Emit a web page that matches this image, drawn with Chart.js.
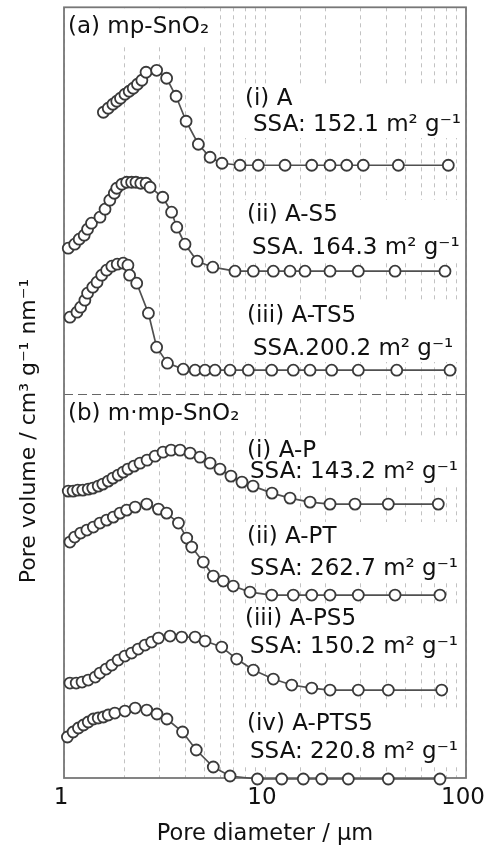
<!DOCTYPE html>
<html>
<head>
<meta charset="utf-8">
<script src="https://cdn.jsdelivr.net/npm/chart.js@4/dist/chart.umd.min.js"></script>
<style>
  html, body { margin: 0; padding: 0; background: #fff; }
</style>
</head>
<body>
<canvas id="pore-chart" width="488" height="853"></canvas>
<script>
// pore diameter (um) and pore volume (arbitrary, relative to each curve's own baseline)
const dA = [1.57,1.66,1.75,1.83,1.91,2.01,2.11,2.21,2.32,2.44,2.56,2.89,3.24,3.61,4.05,4.66,5.33,6.11,7.51,9.26,12.58,17.08,21.06,25.5,30.83,46.07,81.66];
const vA = [53,57,61,64,67,71,74,77,81,85,93,95,87,69,44,21,8,2,0,0,0,0,0,0,0,0,0];

const dS5 = [1.05,1.13,1.19,1.26,1.31,1.37,1.51,1.60,1.69,1.78,1.83,1.94,2.05,2.17,2.28,2.41,2.56,2.68,3.10,3.43,3.64,4.00,4.60,5.50,7.09,8.75,11.0,13.32,15.81,21.06,29.12,44.36,78.61];
const vS5 = [23,27,32,36,42,48,54,62,71,78,83,87,89,89,89,88,88,84,74,59,44,27,10,4,0,0,0,0,0,0,0,0,0];

const dTS5 = [1.07,1.16,1.21,1.27,1.31,1.39,1.46,1.54,1.63,1.73,1.84,1.97,2.08,2.12,2.30,2.63,2.89,3.27,3.92,4.49,5.03,5.64,6.70,8.26,10.8,13.83,16.75,21.47,29.12,45.23,83.26];
const vTS5 = [53,58,63,70,77,83,88,95,100,104,106,107,105,95,87,57,23,7,1,0,0,0,0,0,0,0,0,0,0,0,0];

const dP = [1.05,1.11,1.17,1.24,1.32,1.39,1.48,1.56,1.66,1.75,1.86,1.97,2.08,2.23,2.39,2.59,2.84,3.11,3.41,3.78,4.24,4.75,5.33,5.97,6.77,7.68,8.72,10.83,13.32,16.75,21.06,28.04,41.06,72.8];
const vP = [13,13,14,14,15,16,18,20,23,26,29,32,35,38,41,44,48,52,54,54,51,47,41,35,28,22,18,11,6,2,0,0,0,0];

const dPT = [1.07,1.13,1.21,1.30,1.40,1.51,1.63,1.76,1.90,2.05,2.26,2.58,2.95,3.24,3.71,4.08,4.32,4.93,5.53,6.20,6.95,8.42,10.8,13.83,17.08,21.06,29.12,44.36,74.22];
const vPT = [53,58,62,65,68,72,75,78,82,85,88,91,86,82,72,57,48,33,19,14,9,3,0,0,0,0,0,0,0];

const dPS5 = [1.07,1.15,1.23,1.32,1.43,1.51,1.62,1.73,1.86,2.01,2.17,2.34,2.53,2.73,2.95,3.37,3.85,4.49,5.03,6.09,7.23,8.75,11.0,13.58,17.08,21.06,29.12,41.06,75.69];
const vPS5 = [7,7,8,10,13,17,21,25,30,34,37,41,45,48,52,54,53,53,49,43,31,20,11,5,2,0,0,0,0];

const dPTS5 = [1.04,1.11,1.18,1.25,1.32,1.40,1.48,1.57,1.66,1.79,2.01,2.26,2.58,2.90,3.25,3.89,4.55,5.53,6.70,9.17,12.11,15.51,19.15,25.97,41.06,74.22];
const vPTS5 = [42,47,51,54,57,60,61,62,64,66,68,71,69,65,60,47,29,12,3,0,0,0,0,0,0,0];

// stacking offsets of the curves (same units as the volumes)
const offsets = [613, 507, 408, 274, 183, 88, -1];
const panelSplit = 384;

const sampleNames = ['(i) A', '(ii) A-S5', '(iii) A-TS5', '(i) A-P', '(ii) A-PT', '(iii) A-PS5', '(iv) A-PTS5'];
const ssaLabels = ['SSA: 152.1 m² g⁻¹', 'SSA. 164.3 m² g⁻¹', 'SSA.200.2 m² g⁻¹', 'SSA: 143.2 m² g⁻¹', 'SSA: 262.7 m² g⁻¹', 'SSA: 150.2 m² g⁻¹', 'SSA: 220.8 m² g⁻¹'];
const panelLabels = ['(a) mp-SnO₂', '(b) m·mp-SnO₂'];
const xTickLabels = ['1', '10', '100'];
const xTitle = 'Pore diameter / μm';
const yTitle = 'Pore volume / cm³ g⁻¹ nm⁻¹';

const diams = [dA, dS5, dTS5, dP, dPT, dPS5, dPTS5];
const vols = [vA, vS5, vTS5, vP, vPT, vPS5, vPTS5];

const FONT = '"DejaVu Sans", sans-serif';

const datasets = sampleNames.map((name, k) => ({
    label: name,
    data: diams[k].map((d, i) => ({ x: d, y: vols[k][i] + offsets[k] })),
    borderColor: '#505050',
    borderWidth: 1.7,
    pointRadius: 5.5,
    pointBorderWidth: 1.8,
    pointBorderColor: '#3a3a3a',
    pointBackgroundColor: '#fff',
    tension: 0,
    clip: false
}));

// label places in pixels: [name x, name baseline, ssa x, ssa baseline]
const labelPos = [
    [245, 105, 253, 131],
    [247, 221, 252, 254],
    [247, 322, 253, 355],
    [247, 457, 250, 478],
    [247, 543, 250, 575],
    [245, 625, 250, 653],
    [247, 730, 250, 758]
];

const annotate = {
    id: 'annotate',
    beforeDatasetsDraw(chart) {
        const ctx = chart.ctx;
        const a = chart.chartArea;
        const y = chart.scales.y;
        ctx.save();
        ctx.font = '23px ' + FONT;
        ctx.textBaseline = 'alphabetic';
        ctx.textAlign = 'left';

        // white patches behind the labels hide the grid
        ctx.fillStyle = '#fff';
        ctx.fillRect(a.left + 1, a.top + 1, 154, 38);
        ctx.fillRect(a.left + 1, 398, 182, 30);
        labelPos.forEach((p, k) => {
            const x0 = Math.min(p[0], p[2]) - 4;
            const w = Math.max(p[0] + ctx.measureText(sampleNames[k]).width, p[2] + ctx.measureText(ssaLabels[k]).width);
            ctx.fillRect(x0, p[1] - 21, Math.min(w + 4, a.right - 1) - x0, p[3] - p[1] + 28);
        });

        ctx.fillStyle = '#111';
        ctx.fillText(panelLabels[0], 68, 33);
        ctx.fillText(panelLabels[1], 68, 420);
        labelPos.forEach((p, k) => {
            ctx.fillText(sampleNames[k], p[0], p[1]);
            ctx.fillText(ssaLabels[k], p[2], p[3]);
        });

        // dashed divider between the two panels
        const ys = Math.round(y.getPixelForValue(panelSplit)) + 0.5;
        ctx.strokeStyle = '#666';
        ctx.lineWidth = 1.2;
        ctx.setLineDash([9, 5]);
        ctx.beginPath();
        ctx.moveTo(a.left, ys);
        ctx.lineTo(a.right, ys);
        ctx.stroke();
        ctx.setLineDash([]);

        // frame
        ctx.strokeStyle = '#777';
        ctx.lineWidth = 1.8;
        ctx.strokeRect(a.left, a.top, a.right - a.left, a.bottom - a.top);

        // y title
        ctx.font = '22px ' + FONT;
        ctx.translate(35, 431);
        ctx.rotate(-Math.PI / 2);
        ctx.textAlign = 'center';
        ctx.fillText(yTitle, 0, 0);
        ctx.restore();
    }
};

const chart = new Chart(document.getElementById('pore-chart'), {
    type: 'line',
    data: { datasets: datasets },
    options: {
        responsive: false,
        animation: false,
        events: [],
        layout: { padding: { left: 64, right: 22, top: 7, bottom: 0 } },
        plugins: { legend: { display: false }, tooltip: { enabled: false } },
        scales: {
            x: {
                type: 'logarithmic',
                min: 1,
                max: 100,
                afterFit: (scale) => {
                    scale.height = 75;
                    scale.paddingLeft = 0;
                    scale.paddingRight = 0;
                },
                grid: { color: 'rgba(120,120,120,0.45)', lineWidth: 1, drawTicks: false },
                border: { display: false, dash: [4, 4] },
                ticks: {
                    autoSkip: false,
                    maxRotation: 0,
                    padding: 6,
                    labelOffset: -3,
                    color: '#111',
                    font: { family: FONT, size: 23 },
                    callback: (value) => xTickLabels.includes(String(value)) ? String(value) : ''
                },
                title: {
                    display: true,
                    text: xTitle,
                    color: '#111',
                    font: { family: FONT, size: 22.5 },
                    padding: { top: 0, bottom: 5 }
                }
            },
            y: {
                display: false,
                min: 0,
                max: 771
            }
        }
    },
    plugins: [annotate]
});
</script>
</body>
</html>
